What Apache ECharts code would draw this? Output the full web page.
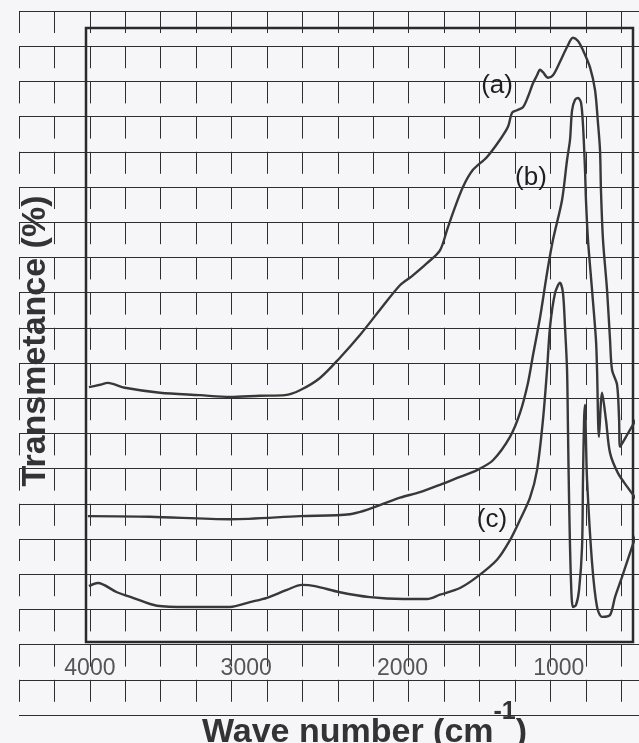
<!DOCTYPE html>
<html>
<head>
<meta charset="utf-8">
<script src="https://cdn.jsdelivr.net/npm/echarts@6/dist/echarts.min.js"></script>
<style>
html,body{margin:0;padding:0;background:#f6f6f8;}
#chart{width:639px;height:743px;}
</style>
</head>
<body>
<div id="chart"></div>
<script>
// ---- data (wavenumber cm-1, transmittance %) ----
const waveA = [4006,3936,3885,3776,3552,3296,3104,2912,2752,2656,2528,2400,2272,2144,2016,1939,1843,1760,1715,1677,1613,1549,1459,1376,1325,1299,1267,1229,1197,1165,1139,1120,1101,1069,1037,992,947,909,877,845,800,768,749,736,730,717,691,672,659,627,614,608,557,506];
const transA = [41.5,41.9,42.2,41.4,40.6,40.2,39.9,40.1,40.2,41.0,43.0,46.3,50.0,54.1,58.1,59.6,61.7,63.8,67.1,69.9,74.1,76.9,79.0,81.8,83.9,86.2,86.6,87.1,88.8,91.0,92.3,93.2,92.8,91.9,92.3,94.5,96.9,98.4,97.9,96.4,93.6,89.9,84.5,80.1,73.6,65.5,57.3,49.2,44.3,41.9,36.2,31.8,34.0,36.2];

const waveB = [4013,3616,3104,2656,2336,2016,1888,1760,1632,1523,1421,1312,1248,1197,1165,1120,1075,1037,979,947,928,915,896,877,858,845,832,826,813,787,762,755,743,723,698,672,621,557,499];
const transB = [20.5,20.4,20.0,20.5,20.8,23.5,24.4,25.6,26.9,28.0,29.6,33.4,37.3,42.2,46.7,52.8,60.1,65.5,72.0,78.5,81.8,86.6,88.3,88.6,87.9,84.2,76.9,72.0,65.5,57.3,49.2,44.3,33.4,40.6,36.2,30.8,27.5,25.1,23.1];

const waveC = [4006,3949,3827,3725,3571,3379,3104,2976,2867,2739,2643,2560,2400,2208,1997,1843,1760,1632,1523,1395,1312,1248,1184,1139,1101,1075,1056,1024,992,973,960,947,941,934,922,909,890,870,851,845,838,832,826,819,787,755,723,672,640,595,531,493];
const transC = [9.1,9.6,8.1,7.2,5.9,5.7,5.7,6.5,7.2,8.5,9.3,9.1,8.1,7.3,7.0,7.0,7.7,8.8,10.6,13.4,16.6,19.9,23.5,28.0,36.2,44.3,51.3,56.8,58.5,56.8,51.3,44.3,34.5,23.1,10.1,5.7,6.0,8.5,15.5,26.4,36.2,38.6,32.9,26.4,12.9,5.7,4.1,4.4,7.3,10.6,15.5,18.2];

const xTickLabels = [4000, 3000, 2000, 1000];
const curveNames = ['(a)', '(b)', '(c)'];
const curveLabelPos = [[1395, 90.6], [1178, 75.6], [1427, 19.9]];

// ---- build ----
function zip(xs, ys){ return xs.map((x,i)=>[x, ys[i]]); }
const curves = [zip(waveA, transA), zip(waveB, transB), zip(waveC, transC)];

const FONT = '"Liberation Sans", Arial, sans-serif';
const chart = echarts.init(document.getElementById('chart'), null, {renderer:'canvas'});

const series = curves.map((d, i) => ({
  type: 'line',
  xAxisIndex: 0, yAxisIndex: 0,
  data: d,
  showSymbol: false,
  smooth: 0.3,
  clip: true,
  z: 5,
  lineStyle: {color: '#383838', width: 2.4},
  markPoint: {
    symbol: 'circle', symbolSize: 1,
    itemStyle: {color: 'rgba(0,0,0,0)'},
    label: {show: true, position: 'inside', formatter: curveNames[i],
            fontFamily: FONT, fontSize: 26, color: '#1e1e1e'},
    data: [{coord: curveLabelPos[i]}]
  }
}));

// background paper grid (decorative)
series.push({type:'line', xAxisIndex:1, yAxisIndex:1, data:[], silent:true});

chart.setOption({
  backgroundColor: '#f6f6f8',
  animation: false,
  grid: [
    {left: 86, right: 6, top: 28, bottom: 101, show: true, containLabel: false, outerBoundsMode: 'none',
     borderColor: '#2a2a2a', borderWidth: 2.5, backgroundColor: 'transparent', z: 3},
    {left: 19, right: 0, top: 11, bottom: 28, show: false, containLabel: false, outerBoundsMode: 'none', z: 1}
  ],
  xAxis: [
    {type: 'value', gridIndex: 0, inverse: true, min: 525, max: 4025,
     axisLine: {show: false}, axisTick: {show: false}, splitLine: {show: false},
     axisLabel: {customValues: xTickLabels, formatter: v => String(v),
                 fontFamily: FONT, fontSize: 23, color: '#555', margin: 15},
     name: 'Wave number (cm{s|-1})', nameLocation: 'middle', nameGap: 58,
     nameTextStyle: {fontFamily: FONT, fontSize: 34, fontWeight: 'bold', color: '#333',
       padding: [0, 0, 0, 10],
       rich: {s: {fontFamily: FONT, fontSize: 25, fontWeight: 'bold', color: '#333', verticalAlign: 'top', padding: [0,0,40,0]}}}
    },
    {type: 'value', gridIndex: 1, min: 0, max: 17.5, interval: 1,
     axisLine: {show: false}, axisTick: {show: false}, axisLabel: {show: false},
     splitLine: {show: true, lineStyle: {color: '#2e2e2e', width: 1, type: [22, 13.2]}}}
  ],
  yAxis: [
    {type: 'value', gridIndex: 0, min: 0, max: 100,
     axisLine: {show: false}, axisTick: {show: false}, axisLabel: {show: false}, splitLine: {show: false},
     name: 'Transmetance (%)', nameLocation: 'middle', nameGap: 33,
     nameTextStyle: {fontFamily: FONT, fontSize: 34, fontWeight: 'bold', color: '#333',
       padding: [0, 12, 0, 0]}
    },
    {type: 'value', gridIndex: 1, min: 0, max: 20, interval: 1, inverse: true,
     axisLine: {show: false}, axisTick: {show: false}, axisLabel: {show: false},
     splitLine: {show: true, lineStyle: {color: '#2e2e2e', width: 1}}}
  ],
  series: series
});
</script>
</body>
</html>
